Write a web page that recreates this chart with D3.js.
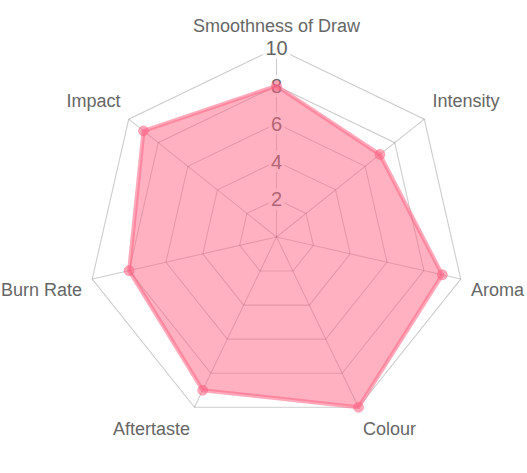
<!DOCTYPE html>
<html>
<head>
<meta charset="utf-8">
<script src="https://cdn.jsdelivr.net/npm/d3@7"></script>
<style>
  body { margin: 0; background: #fff; }
  svg { display: block; font-family: "Liberation Sans", Arial, sans-serif; }
</style>
</head>
<body>
<div id="chart"></div>
<script>
var labels = ["Smoothness of Draw", "Intensity", "Aroma", "Colour", "Aftertaste", "Burn Rate", "Impact"];
var values = [8, 7, 9, 10, 9, 8, 9];
var ticks = [2, 4, 6, 8, 10];

var width = 527;
var height = 473;
var cx = 276.5, cy = 237;
var outer = 189;

var svg = d3.select("#chart")
    .append("svg")
    .attr("width", width)
    .attr("height", height);

var r = d3.scaleLinear().domain([0, 10]).range([0, outer]);
var angle = d3.scaleLinear().domain([0, labels.length]).range([-Math.PI / 2, 1.5 * Math.PI]);

function pt(i, v) {
    var a = angle(i);
    return [cx + r(v) * Math.cos(a), cy + r(v) * Math.sin(a)];
}

var lineColor = "rgba(0,0,0,0.2)";

// grid polygons
svg.selectAll("polygon.grid")
    .data(ticks)
    .enter()
    .append("polygon")
    .attr("class", "grid")
    .attr("points", function (t) {
        return labels.map(function (d, i) { return pt(i, t).join(","); }).join(" ");
    })
    .style("fill", "none")
    .style("stroke", lineColor)
    .style("stroke-width", 1.1);

// angle lines
svg.selectAll("line.spoke")
    .data(labels)
    .enter()
    .append("line")
    .attr("class", "spoke")
    .attr("x1", cx).attr("y1", cy)
    .attr("x2", function (d, i) { return pt(i, 10)[0]; })
    .attr("y2", function (d, i) { return pt(i, 10)[1]; })
    .style("stroke", lineColor)
    .style("stroke-width", 1.1);

// tick labels with backdrop
var tickG = svg.selectAll("g.tick")
    .data(ticks)
    .enter()
    .append("g")
    .attr("class", "tick")
    .attr("transform", function (t) { return "translate(" + cx + "," + (cy - r(t)) + ")"; });

tickG.append("rect")
    .attr("x", function (t) { return t >= 10 ? -14 : -8; })
    .attr("y", -11)
    .attr("width", function (t) { return t >= 10 ? 28 : 16; })
    .attr("height", 22)
    .style("fill", "rgba(255,255,255,0.75)");

tickG.append("text")
    .attr("text-anchor", "middle")
    .attr("dy", "0.36em")
    .style("font-size", "20px")
    .style("fill", "#666")
    .text(function (t) { return t; });

// dataset
var line = d3.line().curve(d3.curveLinearClosed);
svg.append("path")
    .datum(values)
    .attr("d", line(values.map(function (v, i) { return pt(i, v); })))
    .style("fill", "rgba(255,99,132,0.5)")
    .style("stroke", "rgba(255,99,132,0.55)")
    .style("stroke-width", 4)
    .style("stroke-linejoin", "round");

svg.selectAll("circle.point")
    .data(values)
    .enter()
    .append("circle")
    .attr("class", "point")
    .attr("cx", function (v, i) { return pt(i, v)[0]; })
    .attr("cy", function (v, i) { return pt(i, v)[1]; })
    .attr("r", 5)
    .style("fill", "rgba(255,99,132,0.55)")
    .style("stroke", "rgba(255,99,132,0.4)")
    .style("stroke-width", 1);

// point labels
svg.selectAll("text.label")
    .data(labels)
    .enter()
    .append("text")
    .attr("class", "label")
    .attr("x", function (d, i) { return pt(i, 10.55)[0]; })
    .attr("y", function (d, i) { return pt(i, 10.55)[1]; })
    .attr("text-anchor", function (d, i) {
        var c = Math.cos(angle(i));
        return Math.abs(c) < 0.05 ? "middle" : (c > 0 ? "start" : "end");
    })
    .attr("dy", function (d, i) {
        var s = Math.sin(angle(i));
        if (s < -0.9) return "-0.3em";
        if (s < -0.3) return "-0.3em";
        if (s > 0.9) return "1em";
        if (s > 0.3) return "1.1em";
        return "0.8em";
    })
    .style("font-size", "18px")
    .style("fill", "#666")
    .text(function (d) { return d; });
</script>
</body>
</html>
